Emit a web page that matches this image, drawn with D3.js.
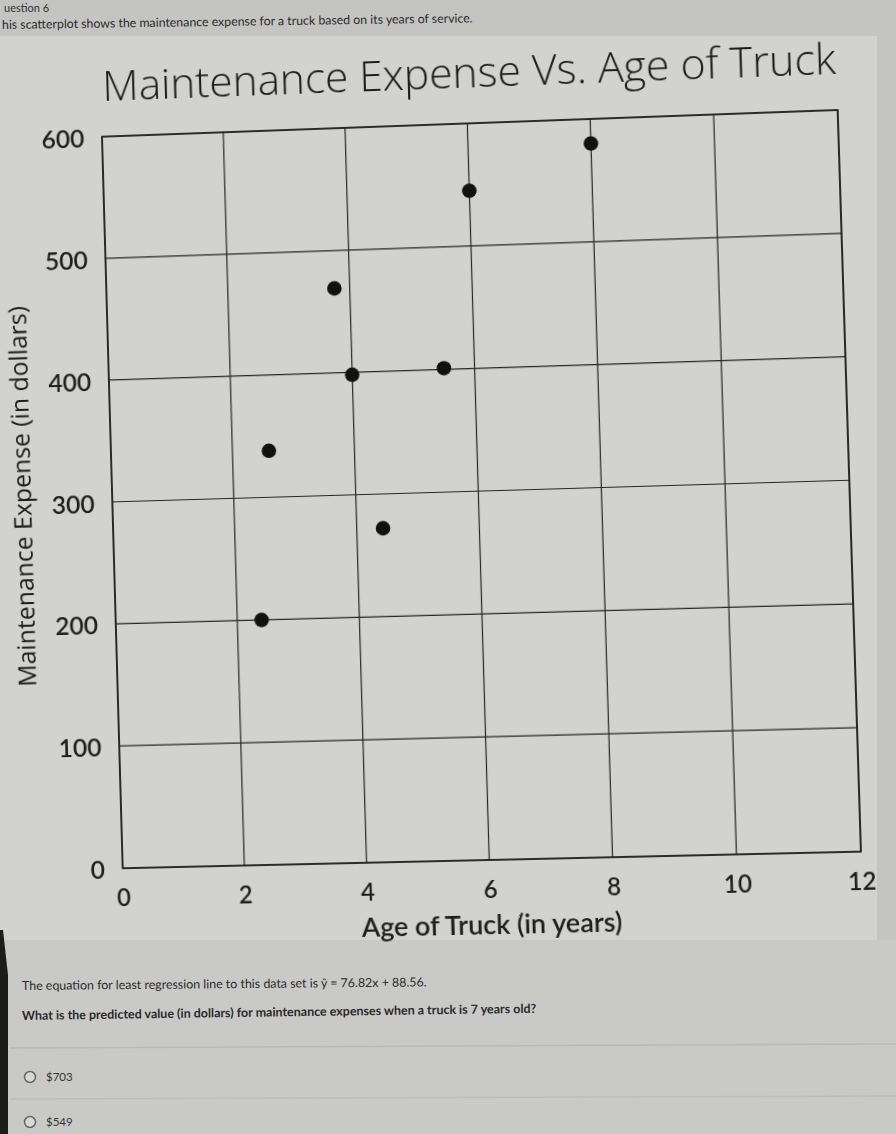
<!DOCTYPE html>
<html><head><meta charset="utf-8">
<script src="https://cdn.jsdelivr.net/npm/d3@7"></script>
<style>
html,body{margin:0;padding:0;width:896px;height:1134px;overflow:hidden;background:#c3c3c1;}
#bg{position:absolute;left:0;top:0;}
#stage{position:absolute;left:0;top:0;width:896px;height:1134px;transform-origin:0 0;}
#chart{display:block;}
</style></head><body>
<svg id="bg" width="896" height="1134"></svg>
<div id="stage"><svg id="chart" width="896" height="1134"></svg></div>
<script>
// ---- data ----
const ages = [2.4, 2.6, 3.75, 4.0, 4.43, 5.5, 6.0, 8.0];
const expenses = [200, 338, 469, 398, 272, 401, 545, 580];
const xTicks = [0, 2, 4, 6, 8, 10, 12];
const yTicks = [0, 100, 200, 300, 400, 500, 600];
const chartTitle = "Maintenance Expense Vs. Age of Truck";
const xTitle = "Age of Truck (in years)";
const yTitle = "Maintenance Expense (in dollars)";
const headerText = "his scatterplot shows the maintenance expense for a truck based on its years of service.";
const questionTop = "uestion 6";
const equationText = "The equation for least regression line to this data set is ŷ = 76.82x + 88.56.";
const questionText = "What is the predicted value (in dollars) for maintenance expenses when a truck is 7 years old?";
const answers = ["$703", "$549"];

// ---- perspective of the photographed screen ----
const L = 112, R = 849, T = 123, B = 860;
const photoCorners = [[102, 136.7], [837.7, 110], [122.7, 868.3], [861, 851.7]];
const logicalCorners = [[L, T], [R, T], [L, B], [R, B]];

function solveH(src, dst) {
  const A = [], b = [];
  for (let i = 0; i < 4; i++) {
    const [x, y] = src[i], [u, v] = dst[i];
    A.push([x, y, 1, 0, 0, 0, -x * u, -y * u]); b.push(u);
    A.push([0, 0, 0, x, y, 1, -x * v, -y * v]); b.push(v);
  }
  const n = 8;
  for (let c = 0; c < n; c++) {
    let p = c;
    for (let r = c + 1; r < n; r++) if (Math.abs(A[r][c]) > Math.abs(A[p][c])) p = r;
    [A[c], A[p]] = [A[p], A[c]]; [b[c], b[p]] = [b[p], b[c]];
    for (let r = 0; r < n; r++) {
      if (r === c) continue;
      const f = A[r][c] / A[c][c];
      for (let k = c; k < n; k++) A[r][k] -= f * A[c][k];
      b[r] -= f * b[c];
    }
  }
  const h = b.map((v, i) => v / A[i][i]);
  return [[h[0], h[1], h[2]], [h[3], h[4], h[5]], [h[6], h[7], 1]];
}
function inv3(m) {
  const [a, b, c] = m[0], [d, e, f] = m[1], [g, h, i] = m[2];
  const A = e * i - f * h, Bv = -(d * i - f * g), C = d * h - e * g;
  const det = a * A + b * Bv + c * C;
  return [
    [A / det, -(b * i - c * h) / det, (b * f - c * e) / det],
    [Bv / det, (a * i - c * g) / det, -(a * f - c * d) / det],
    [C / det, -(a * h - b * g) / det, (a * e - b * d) / det]
  ];
}
function apply(m, [x, y]) {
  const w = m[2][0] * x + m[2][1] * y + m[2][2];
  return [(m[0][0] * x + m[0][1] * y + m[0][2]) / w, (m[1][0] * x + m[1][1] * y + m[1][2]) / w];
}
const H = solveH(logicalCorners, photoCorners);
const Hi = inv3(H);
d3.select("#stage").style("transform",
  `matrix3d(${H[0][0]},${H[1][0]},0,${H[2][0]},${H[0][1]},${H[1][1]},0,${H[2][1]},0,0,1,0,${H[0][2]},${H[1][2]},0,1)`);
const toLogical = p => apply(Hi, p);

function fitText(sel, target) {
  const fs = parseFloat(sel.attr("font-size"));
  const w = sel.node().getComputedTextLength();
  if (w > 0) sel.attr("font-size", (fs * target / w).toFixed(2));
}

// ---- flat background layer (page, panels, question text) ----
const bg = d3.select("#bg");
bg.append("rect").attr("x", 0).attr("y", 0).attr("width", 896).attr("height", 1134).attr("fill", "#c4c4c2");
bg.append("rect").attr("x", 0).attr("y", 36).attr("width", 877).attr("height", 904).attr("fill", "#d2d2d0");
bg.append("rect").attr("x", 0).attr("y", 940).attr("width", 896).attr("height", 194).attr("fill", "#c9c9c7");
bg.append("line").attr("x1", 10).attr("x2", 896).attr("y1", 1048).attr("y2", 1044).attr("stroke", "#b9b9b7").attr("stroke-width", 1.5);
bg.append("line").attr("x1", 10).attr("x2", 896).attr("y1", 1099).attr("y2", 1096).attr("stroke", "#bcbcba").attr("stroke-width", 1.5);
bg.append("path").attr("d", "M0,930 L3,930 L8,975 L8,1134 L0,1134 Z").attr("fill", "#1c1c1c");

bg.append("text").text(questionTop).attr("x", 4).attr("y", 12)
  .attr("font-family", "Lato, sans-serif").attr("font-size", 11).attr("fill", "#333");
const ht = bg.append("text").text(headerText).attr("x", 2).attr("y", 29)
  .attr("transform", "rotate(-0.8 2 29)")
  .attr("font-family", "Lato, sans-serif").attr("font-size", 12).attr("fill", "#2a2a2a");
fitText(ht, 471);
const eq = bg.append("text").text(equationText).attr("x", 22).attr("y", 990)
  .attr("transform", "rotate(-0.5 22 990)")
  .attr("font-family", "Lato, sans-serif").attr("font-size", 11).attr("fill", "#2a2a2a");
fitText(eq, 405);
const qt = bg.append("text").text(questionText).attr("x", 22).attr("y", 1020)
  .attr("transform", "rotate(-0.8 22 1020)")
  .attr("font-family", "Lato, sans-serif").attr("font-size", 11).attr("font-weight", 700).attr("fill", "#2a2a2a");
fitText(qt, 515);
const ansY = [1077, 1122];
answers.forEach((a, i) => {
  bg.append("circle").attr("cx", 30).attr("cy", ansY[i]).attr("r", 5.5)
    .attr("fill", "#d8d8d6").attr("stroke", "#666").attr("stroke-width", 1.5);
  bg.append("text").text(a).attr("x", 46).attr("y", ansY[i] + 4)
    .attr("font-family", "Lato, sans-serif").attr("font-size", 11.5).attr("fill", "#333");
});

// ---- chart (drawn flat, warped to the photo's perspective) ----
const svg = d3.select("#chart");
const x = d3.scaleLinear().domain([0, 12]).range([L, R]);
const y = d3.scaleLinear().domain([0, 600]).range([B, T]);
const ink = "#1e1e1e";

const grid = svg.append("g").attr("stroke", "#262626").attr("stroke-width", 1.2);
grid.selectAll("line.v").data(xTicks).join("line").attr("class", "v")
  .attr("x1", d => x(d)).attr("x2", d => x(d)).attr("y1", y(0)).attr("y2", y(600));
grid.selectAll("line.h").data(yTicks).join("line").attr("class", "h")
  .attr("y1", d => y(d)).attr("y2", d => y(d)).attr("x1", x(0)).attr("x2", x(12));
svg.append("rect").attr("x", x(0)).attr("y", y(600)).attr("width", x(12) - x(0)).attr("height", y(0) - y(600))
  .attr("fill", "none").attr("stroke", "#1a1a1a").attr("stroke-width", 1.6);

const yAxis = svg.append("g").attr("transform", `translate(${L},0)`)
  .call(d3.axisLeft(y).tickValues(yTicks).tickSize(0).tickPadding(18));
yAxis.select(".domain").remove();
yAxis.selectAll("text").attr("font-family", "Lato, sans-serif").attr("font-size", 25)
  .attr("font-weight", 600).attr("fill", ink).attr("dy", "0.38em");

const xAxis = svg.append("g").attr("transform", `translate(0,${B})`)
  .call(d3.axisBottom(x).tickValues(xTicks).tickSize(0));
xAxis.select(".domain").remove();
xAxis.selectAll("text").attr("font-family", "Lato, sans-serif").attr("font-size", 24)
  .attr("font-weight", 600).attr("fill", ink).attr("y", 29).attr("dy", "0.36em");

const pts = ages.map((a, i) => ({ a, e: expenses[i] }));
svg.append("g").selectAll("circle").data(pts).join("circle")
  .attr("cx", d => x(d.a)).attr("cy", d => y(d.e)).attr("r", 7.3).attr("fill", "#111");

const tp = toLogical([467, 88]);
const title = svg.append("text").text(chartTitle).attr("x", tp[0]).attr("y", tp[1])
  .attr("text-anchor", "middle").attr("font-family", "'Open Sans', sans-serif")
  .attr("font-weight", 300).attr("font-size", 46).attr("fill", "#1c1c1c");
fitText(title, 735);

const xp = toLogical([492, 934]);
const xt = svg.append("text").text(xTitle).attr("x", xp[0]).attr("y", xp[1])
  .attr("text-anchor", "middle").attr("font-family", "Lato, sans-serif")
  .attr("font-weight", 600).attr("font-size", 24).attr("fill", ink);
fitText(xt, 260);

const yp = toLogical([31, 496]);
const yt = svg.append("text").text(yTitle)
  .attr("transform", `translate(${yp[0]},${yp[1]}) rotate(-90)`)
  .attr("text-anchor", "middle").attr("font-family", "'Open Sans', sans-serif")
  .attr("font-size", 23).attr("fill", "#1c1c1c");
fitText(yt, 384);
</script>
</body></html>
